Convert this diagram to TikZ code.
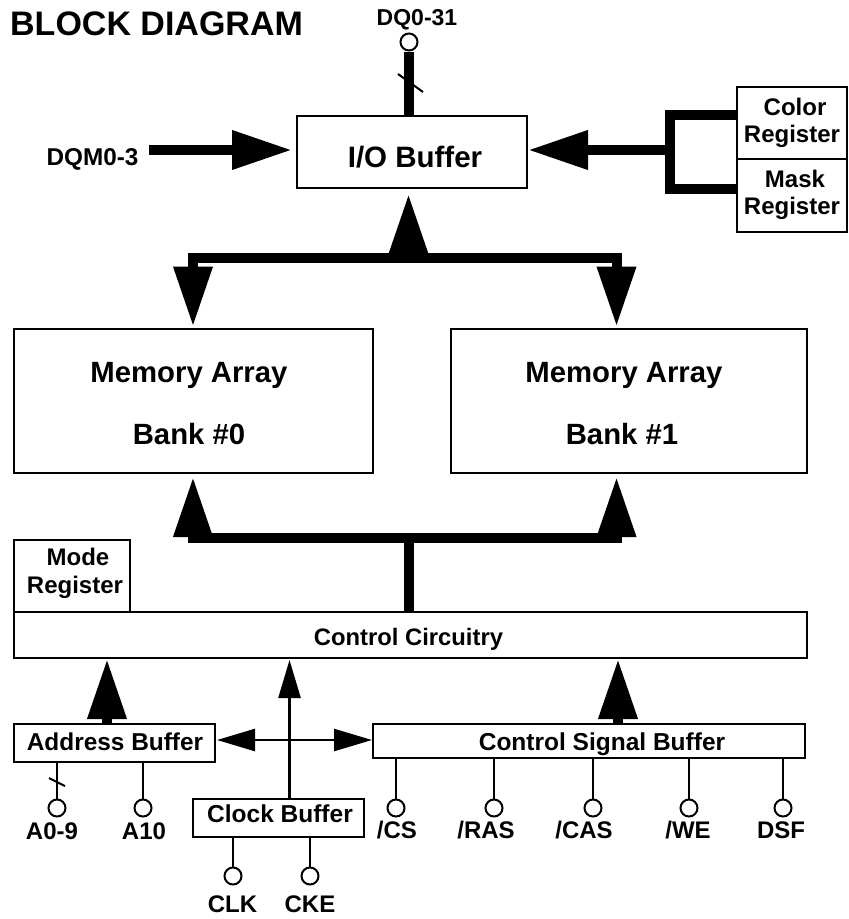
\documentclass[tikz,border=0pt]{standalone}
\usepackage{fontspec}
\setmainfont{Liberation Sans}
\usetikzlibrary{arrows.meta}
\tikzset{
  box/.style={draw, line width=2pt, inner sep=0pt, rectangle},
  txt/.style={inner sep=0pt, anchor=base, font=\fontsize{#1}{#1}\selectfont\bfseries},
  pincirc/.style={circle, draw, line width=2pt, fill=white, inner sep=0pt, minimum size=17pt},
  busline/.style={line width=10pt, line join=miter},
  bus/.style={busline, -{Triangle[length=60pt,width=37pt]}},
  sig/.style={line width=2pt},
  sigarr/.style={line width=2.5pt, -{Triangle[length=38pt,width=22pt]}},
  sigboth/.style={line width=2.5pt, {Triangle[length=38pt,width=22pt]}-{Triangle[length=38pt,width=22pt]}}
}
\begin{document}
\begin{tikzpicture}[x=1pt,y=-1pt]
\useasboundingbox (0,0) rectangle (849,919);
% title
\node[txt=34, anchor=base west] (title) at (10,35) {BLOCK DIAGRAM};
% boxes
\node[box, minimum width=230pt, minimum height=72pt] (io) at (412,152) {};
\node[box, minimum width=110pt, minimum height=72pt] (cr) at (792,123) {};
\node[box, minimum width=110pt, minimum height=73pt] (mr) at (792,195.5) {};
\node[box, minimum width=359pt, minimum height=144pt] (b0) at (193.5,401) {};
\node[box, minimum width=356pt, minimum height=144pt] (b1) at (629,401) {};
\node[box, minimum width=116pt, minimum height=72pt] (mode) at (72,576) {};
\node[box, minimum width=793pt, minimum height=46pt] (ctrl) at (410.5,635) {};
\node[box, minimum width=201pt, minimum height=38pt] (ab) at (114.5,743) {};
\node[box, minimum width=432pt, minimum height=34pt] (csb) at (589,741) {};
\node[box, minimum width=171pt, minimum height=38pt] (cb) at (278.5,818) {};
% texts
\node[txt=23] (tdq) at (417,25) {DQ0-31};
\node[txt=24.3] (tdqm) at (92.5,165) {DQM0-3};
\node[txt=29.5] (tio) at (415,167) {I/O Buffer};
\node[txt=24] (tcr1) at (795,115) {Color};
\node[txt=24] (tcr2) at (792,142) {Register};
\node[txt=24] (tmr1) at (795,187) {Mask};
\node[txt=24] (tmr2) at (792,214) {Register};
\node[txt=29.3] (tb0a) at (189,382) {Memory Array};
\node[txt=29.3] (tb0b) at (189,444) {Bank \#0};
\node[txt=29.3] (tb1a) at (624,382) {Memory Array};
\node[txt=29.3] (tb1b) at (622,444) {Bank \#1};
\node[txt=24] (tmo1) at (78,565) {Mode};
\node[txt=24] (tmo2) at (75,593) {Register};
\node[txt=23.8] (tctrl) at (408.5,645) {Control Circuitry};
\node[txt=24.4] (tab) at (115,750) {Address Buffer};
\node[txt=24.5] (tcb) at (280,822) {Clock Buffer};
\node[txt=24.5] (tcsb) at (602,750) {Control Signal Buffer};
% pins
\node[pincirc] (pdq) at (409,42) {};
\node[pincirc] (pa9) at (57,808) {};
\node[pincirc] (pa10) at (143,808) {};
\node[pincirc] (pclk) at (233,876) {};
\node[pincirc] (pcke) at (310,876) {};
\node[pincirc] (pcs) at (396,808) {};
\node[pincirc] (pras) at (494,808) {};
\node[pincirc] (pcas) at (593,808) {};
\node[pincirc] (pwe) at (689,808) {};
\node[pincirc] (pdsf) at (783,808) {};
% pin labels
\node[txt=24] (la9) at (52,839) {A0-9};
\node[txt=24] (la10) at (144,839) {A10};
\node[txt=24] (lclk) at (232.5,912) {CLK};
\node[txt=24] (lcke) at (310,912) {CKE};
\node[txt=24] (lcs) at (397,838) {/CS};
\node[txt=24] (lras) at (486,838) {/RAS};
\node[txt=24] (lcas) at (584,838) {/CAS};
\node[txt=24] (lwe) at (688,838) {/WE};
\node[txt=24] (ldsf) at (781,838) {DSF};
% DQ bus
\draw[busline] (pdq.south) -- (pdq.south |- io.north);
\draw[sig] (398,74) -- (423,92);
% DQM
\coordinate (dqm) at (149,150);
\draw[bus, shorten >=4pt] (dqm) -- (dqm -| io.west);
% registers
\coordinate (rj) at (670,150);
\coordinate (cj) at (cr.west |- 0,114.5);
\coordinate (mj) at (mr.west |- 0,188.5);
\draw[busline] (cj) -| (rj |- mj) -- (mj);
\draw[bus] (rj) -- (rj -| io.east);
% top bus
\coordinate (tb) at (408.5,258);
\coordinate (tl) at (193,258);
\coordinate (tr) at (616.5,258);
\draw[bus, shorten >=5pt] (tb) -- (tb |- io.south);
\draw[bus, shorten >=1.5pt] (tb) -- (tl) -- (tl |- b0.north);
\draw[bus, shorten >=1.5pt] (tb) -- (tr) -- (tr |- b1.north);
% bottom bus
\coordinate (bb) at (408.5,538);
\coordinate (bl) at (193,538);
\coordinate (br) at (616.5,538);
\draw[bus, shorten >=3pt] (bb) -- (bl) -- (bl |- b0.south);
\draw[bus, shorten >=3pt] (bb) -- (br) -- (br |- b1.south);
\draw[busline] (bb) -- (bb |- ctrl.north);
% into control circuitry
\coordinate (ax) at (107,0);
\coordinate (cx) at (618,0);
\coordinate (kx) at (289.5,0);
\coordinate (hy) at (0,740);
\draw[bus] (ab.north -| ax) -- (ax |- ctrl.south);
\draw[bus] (csb.north -| cx) -- (cx |- ctrl.south);
\draw[sigarr, shorten >=1pt] (cb.north -| kx) -- (kx |- ctrl.south);
\draw[sigboth, shorten <=1pt] (ab.east |- hy) -- (csb.west |- hy);
% pin lines
\draw[sig] (pa9.north) -- (pa9.north |- ab.south);
\draw[sig] (49,778) -- (65,786);
\draw[sig] (pa10.north) -- (pa10.north |- ab.south);
\draw[sig] (pclk.north) -- (pclk.north |- cb.south);
\draw[sig] (pcke.north) -- (pcke.north |- cb.south);
\draw[sig] (pcs.north) -- (pcs.north |- csb.south);
\draw[sig] (pras.north) -- (pras.north |- csb.south);
\draw[sig] (pcas.north) -- (pcas.north |- csb.south);
\draw[sig] (pwe.north) -- (pwe.north |- csb.south);
\draw[sig] (pdsf.north) -- (pdsf.north |- csb.south);
\end{tikzpicture}
\end{document}
